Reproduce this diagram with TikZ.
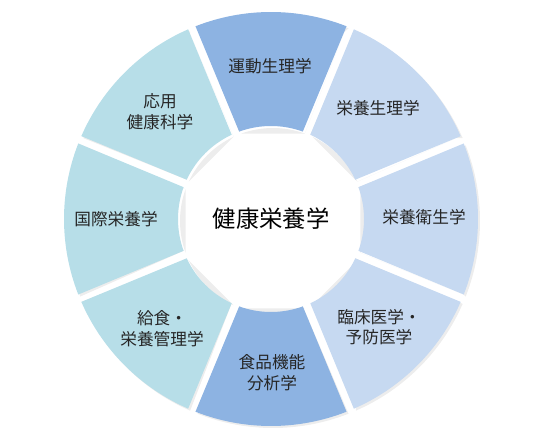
\documentclass[tikz,border=0pt]{standalone}
\usepackage{fontspec}
\setmainfont{Noto Sans CJK JP}
\definecolor{ringdark}{HTML}{8DB3E2}
\definecolor{ringright}{HTML}{C6D9F1}
\definecolor{ringleft}{HTML}{B7DEE8}
\tikzset{
  seglabel/.style={align=center, font=\fontsize{12.5}{15.5}\selectfont, text=black!85},
  hublabel/.style={font=\fontsize{17.5}{20}\selectfont, text=black}
}
\begin{document}
\begin{tikzpicture}[x=0.75pt, y=0.75pt]
    \useasboundingbox (0,0) rectangle (542,439);
    \coordinate (c) at (271,220);
    \def\Ro{207}
    \def\Ri{93}

    % Ring segments (gap of about 8px between them)
    \foreach \mid/\col in {90/ringdark, 45/ringright, 0/ringright, -45/ringright,
                           -90/ringdark, -135/ringleft, 180/ringleft, 135/ringleft} {
        \pgfmathsetmacro\ais{\mid-22.5+2.5}
        \pgfmathsetmacro\aie{\mid+22.5-2.5}
        \pgfmathsetmacro\aos{\mid-22.5+1.1}
        \pgfmathsetmacro\aoe{\mid+22.5-1.1}
        % soft shadow
        \fill[gray!14] ([shift={(\ais:\Ri)}]c) ++(2,-2) -- ([shift={(\aos:\Ro)}]c) ++(2,-2)
            arc[start angle=\aos, end angle=\aoe, radius=\Ro]
            -- ([shift={(\aie:\Ri)}]c) ++(2,-2)
            arc[start angle=\aie, end angle=\ais, radius=\Ri] -- cycle;
        % segment
        \fill[\col] ([shift={(\ais:\Ri)}]c) -- ([shift={(\aos:\Ro)}]c)
            arc[start angle=\aos, end angle=\aoe, radius=\Ro]
            -- ([shift={(\aie:\Ri)}]c)
            arc[start angle=\aie, end angle=\ais, radius=\Ri] -- cycle;
    }

    % Hub
    \node[hublabel] (hub) at (271,220) {健康栄養学};

    % Segment labels
    \node[seglabel] (undo)    at (270,373) {運動生理学};
    \node[seglabel] (eiyoseiri) at (378,331) {栄養生理学};
    \node[seglabel] (eisei)   at (424,222) {栄養衛生学};
    \node[seglabel] (rinsho)  at (379,112) {臨床医学・\\予防医学};
    \node[seglabel] (shokuhin) at (272,66) {食品機能\\分析学};
    \node[seglabel] (kyushoku) at (162,110) {給食・\\栄養管理学};
    \node[seglabel] (kokusai) at (116,220) {国際栄養学};
    \node[seglabel] (oyo)     at (160,327) {応用\\健康科学};
\end{tikzpicture}
\end{document}
